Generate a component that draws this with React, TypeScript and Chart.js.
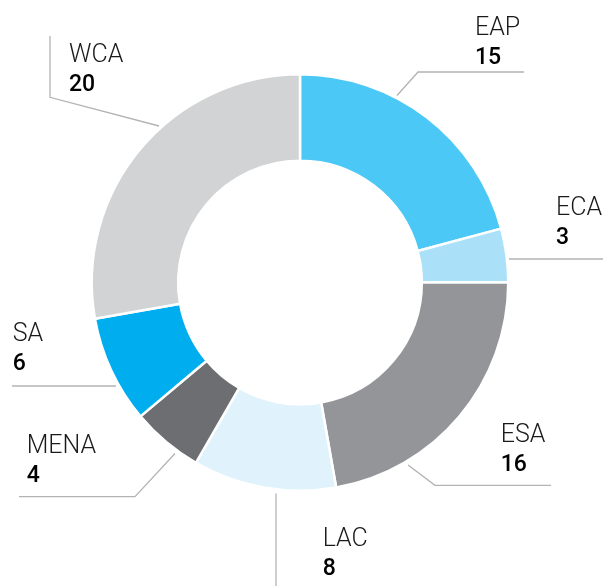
import React, { useEffect, useRef } from "react";
import { Chart, registerables } from "chart.js";

Chart.register(...registerables);

const categories = ["EAP", "ECA", "ESA", "LAC", "MENA", "SA", "WCA"];
const values = [15, 3, 16, 8, 4, 6, 20];
const colors = ["#4BC8F5", "#ABE0F9", "#939598", "#E0F3FD", "#6D6E71", "#00AEEF", "#D1D3D4"];

// leader line points and label anchors, offsets from the doughnut centre (layout only)
const leaderLayout: { pts: [number, number][]; text: [number, number] }[] = [
  { pts: [[97, -187], [118, -210.5], [224, -210.5]], text: [175, -247.5] },
  { pts: [[209, -23.5], [305, -23.5]], text: [256, -67.5] },
  { pts: [[108, 182.5], [135, 202.8], [251, 202.8]], text: [200.7, 159.5] },
  { pts: [[-24, 211], [-24, 305]], text: [22.7, 263.5] },
  { pts: [[-125, 171], [-165, 214.2], [-281, 214.2]], text: [-273.3, 170.2] },
  { pts: [[-184, 103.5], [-288, 103.5]], text: [-287.3, 58.2] },
  { pts: [[-141, -156.5], [-250, -185.2], [-250, -246.5]], text: [-231, -220.8] },
];

const labelPlugin = {
  id: "leaderLabels",
  afterDraw(chart: any) {
    const meta = chart.getDatasetMeta(0);
    const arc = meta.data[0];
    if (!arc) return;
    const cx = arc.x;
    const cy = arc.y;
    const ctx = chart.ctx;
    ctx.save();
    ctx.strokeStyle = "#B3B3B3";
    ctx.lineWidth = 1.3;
    leaderLayout.forEach((l, i) => {
      ctx.beginPath();
      l.pts.forEach((p, j) => {
        if (j === 0) ctx.moveTo(cx + p[0], cy + p[1]);
        else ctx.lineTo(cx + p[0], cy + p[1]);
      });
      ctx.stroke();
      ctx.textAlign = "left";
      ctx.textBaseline = "alphabetic";
      ctx.fillStyle = "#1a1a1a";
      ctx.font = "300 25px Roboto";
      ctx.fillText(categories[i], cx + l.text[0], cy + l.text[1]);
      ctx.fillStyle = "#000000";
      ctx.font = "500 23px Roboto";
      ctx.fillText(String(values[i]), cx + l.text[0], cy + l.text[1] + 29);
    });
    ctx.restore();
  },
};

export default function App() {
  const ref = useRef<HTMLCanvasElement>(null);
  useEffect(() => {
    if (!ref.current) return;
    const chart = new Chart(ref.current, {
      type: "doughnut",
      data: {
        labels: categories,
        datasets: [
          {
            data: values,
            backgroundColor: colors,
            borderColor: "#ffffff",
            borderWidth: 2.5,
          },
        ],
      },
      options: {
        animation: false,
        responsive: false,
        maintainAspectRatio: false,
        cutout: "58.5%",
        layout: { padding: { left: 90, right: 93, top: 73, bottom: 94 } },
        plugins: { legend: { display: false }, tooltip: { enabled: false } },
      },
      plugins: [labelPlugin],
    });
    return () => chart.destroy();
  }, []);
  return (
    <div style={{ position: "absolute", left: 0, top: 0, width: 603, height: 586, background: "#fff" }}>
      <canvas ref={ref} width={603} height={586} style={{ width: 603, height: 586, display: "block" }} />
    </div>
  );
}
